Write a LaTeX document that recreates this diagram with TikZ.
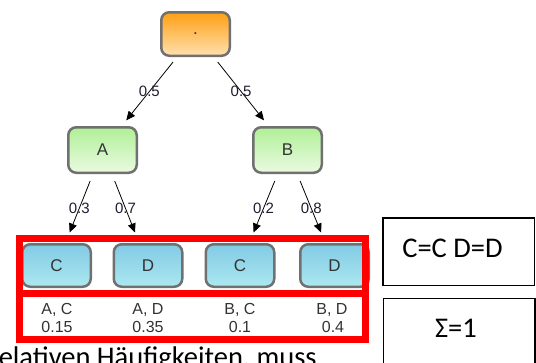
\documentclass[tikz,border=0pt]{standalone}
\usepackage{fontspec}
\setmainfont{Liberation Sans}
\newfontfamily\slidefont{Carlito}
\usetikzlibrary{arrows.meta}

\definecolor{boxborder}{HTML}{707070}
\definecolor{orangetop}{RGB}{255,160,20}
\definecolor{orangebot}{RGB}{255,224,175}
\definecolor{greentop}{RGB}{176,240,150}
\definecolor{greenbot}{RGB}{234,250,226}
\definecolor{bluetop}{RGB}{130,202,228}
\definecolor{bluebot}{RGB}{172,232,240}
\definecolor{labelink}{RGB}{30,30,50}

\begin{document}
\begin{tikzpicture}[x=1pt,y=-1pt,
  treebox/.style={draw=boxborder, line width=2.5pt, rounded corners=8pt,
    inner sep=0pt, font=\fontsize{17}{20}\selectfont, text=black!80},
  rootbox/.style={treebox, minimum width=68.5pt, minimum height=43.5pt,
    top color=orangetop, bottom color=orangebot},
  midbox/.style={treebox, minimum width=68.5pt, minimum height=45.5pt,
    top color=greentop, bottom color=greenbot},
  leafbox/.style={treebox, minimum width=68.5pt, minimum height=42.5pt,
    top color=bluetop, bottom color=bluebot},
  prob/.style={-{Triangle[length=9pt,width=8pt]}, line width=0.8pt, black},
  probtext/.style={font=\fontsize{15}{16}\selectfont, text=labelink, inner sep=0pt},
  celltext/.style={font=\fontsize{16}{18}\selectfont, text=black!80, inner sep=0pt, anchor=base},
  rulebox/.style={draw=black, line width=1.5pt, minimum width=151.5pt, inner sep=0pt},
  slidetext/.style={font=\slidefont\fontsize{28.5}{32}\selectfont, inner sep=0pt, anchor=base},
]
\clip (0,0) rectangle (536,362);

% probability tree
\node[rootbox] (root) at (195.5,34) {.};
\node[midbox] (a) at (102.5,150) {A};
\node[midbox] (b) at (287.5,150) {B};
\node[leafbox] (ac) at (56.5,265.5) {C};
\node[leafbox] (ad) at (148,265.5) {D};
\node[leafbox] (bc) at (240,265.5) {C};
\node[leafbox] (bd) at (334.5,265.5) {D};

\draw[prob, shorten <=6.4pt, shorten >=7.2pt] (root) -- node[probtext] (pa) {0.5} (a);
\draw[prob, shorten <=6.4pt, shorten >=7.2pt] (root) -- node[probtext] (pb) {0.5} (b);
\draw[prob, shorten <=7.5pt, shorten >=11.3pt] (a) -- node[probtext] (pac) {0.3} (ac);
\draw[prob, shorten <=7.5pt, shorten >=11.3pt] (a) -- node[probtext] (pad) {0.7} (ad);
\draw[prob, shorten <=7.5pt, shorten >=11.3pt] (b) -- node[probtext] (pbc) {0.2} (bc);
\draw[prob, shorten <=7.5pt, shorten >=11.3pt] (b) -- node[probtext] (pbd) {0.8} (bd);

% red frame around the leaves and their joint probabilities
\draw[red, line width=7pt] (19.5,238.5) rectangle (365.5,339.5);
\draw[red, line width=7pt] (16,293) -- (369,293);

\node[celltext] (nac) at (57,314) {A, C};
\node[celltext] (vac) at (57,332) {0.15};
\node[celltext] (nad) at (148,314) {A, D};
\node[celltext] (vad) at (148,332) {0.35};
\node[celltext] (nbc) at (240,314) {B, C};
\node[celltext] (vbc) at (240,332) {0.1};
\node[celltext] (nbd) at (332,314) {B, D};
\node[celltext] (vbd) at (333,332) {0.4};

% side notes
\node[rulebox, minimum height=67.5pt] (same) at (458.5,251.5) {};
\node[slidetext] (sametext) at (452.5,257) {C=C D=D};
\node[rulebox, minimum height=80pt] (sum) at (459,338.5) {};
\node[slidetext] (sumtext) at (456,337) {Σ=1};

% running text below
\node[slidetext, anchor=base west] (caption) at (-11,366) {relativen Häufigkeiten, muss};
\end{tikzpicture}
\end{document}
